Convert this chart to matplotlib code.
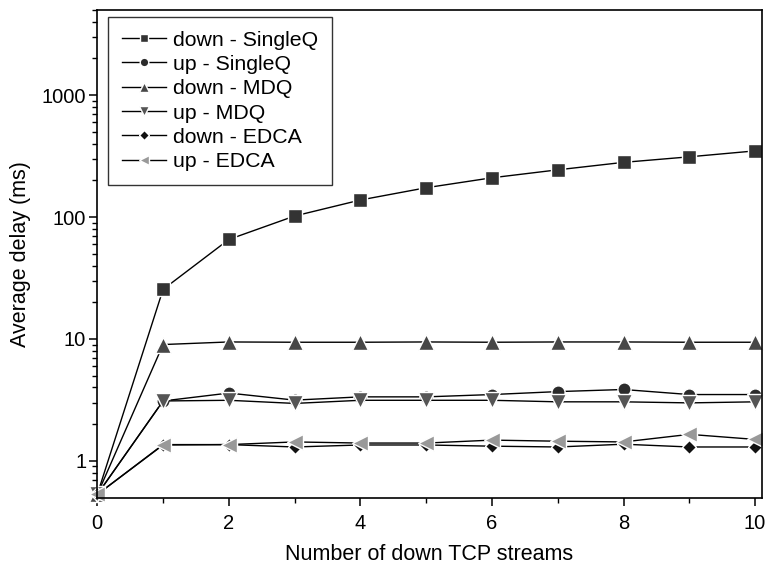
import matplotlib
matplotlib.use("Agg")
from matplotlib import pyplot as plt
from matplotlib.ticker import LogLocator, NullFormatter, FixedLocator

plt.rcParams['font.family'] = ['Liberation Sans', 'DejaVu Sans']

streams = [0, 1, 2, 3, 4, 5, 6, 7, 8, 9, 10]

down_singleq = [0.53, 25.5, 65.5, 102, 138, 174, 210, 244, 281, 312, 349]
up_singleq = [0.53, 3.1, 3.6, 3.15, 3.35, 3.35, 3.5, 3.7, 3.85, 3.5, 3.5]
down_mdq = [0.53, 9.0, 9.45, 9.4, 9.4, 9.45, 9.4, 9.45, 9.45, 9.4, 9.4]
up_mdq = [0.53, 3.1, 3.14, 2.96, 3.14, 3.14, 3.14, 3.05, 3.05, 2.99, 3.05]
down_edca = [0.53, 1.35, 1.36, 1.3, 1.35, 1.35, 1.32, 1.3, 1.37, 1.3, 1.3]
up_edca = [0.53, 1.36, 1.36, 1.43, 1.4, 1.4, 1.48, 1.45, 1.43, 1.65, 1.5]

series = [
    ("down - SingleQ", down_singleq, 's', '#333333', 9.5),
    ("up - SingleQ", up_singleq, 'o', '#2b2b2b', 9.5),
    ("down - MDQ", down_mdq, '^', '#474747', 11),
    ("up - MDQ", up_mdq, 'v', '#555555', 11),
    ("down - EDCA", down_edca, 'D', '#111111', 7.5),
    ("up - EDCA", up_edca, '<', '#999999', 11),
]

fig = plt.figure(figsize=(7.69, 5.68), dpi=100)
ax = fig.add_axes([0.1265, 0.124, 0.8640, 0.8585])

for label, vals, mk, col, ms in series:
    ax.plot(streams, vals, color='black', linewidth=1.0, marker=mk,
            markersize=ms, markerfacecolor=col, markeredgecolor='white',
            markeredgewidth=1.0, label=label, clip_on=False)

ax.set_yscale('log')
ax.set_ylim(0.5, 5000)
ax.set_xlim(0, 10.1)

ax.set_xticks([0, 2, 4, 6, 8, 10])
ax.xaxis.set_minor_locator(FixedLocator([1, 3, 5, 7, 9]))
ax.set_yticks([1, 10, 100, 1000])
ax.set_yticklabels(['1', '10', '100', '1000'])
ax.yaxis.set_minor_locator(LogLocator(base=10, subs=range(2, 10)))
ax.yaxis.set_minor_formatter(NullFormatter())

ax.tick_params(which='major', direction='out', length=6, width=1.1,
               labelsize=14.5)
ax.tick_params(axis='x', which='major', pad=6)
ax.tick_params(axis='y', which='major', pad=2)
ax.tick_params(which='minor', direction='out', length=3.5, width=1.0)
for s in ax.spines.values():
    s.set_linewidth(1.2)

ax.set_xlabel("Number of down TCP streams", fontsize=15.5, labelpad=8)
ax.set_ylabel("Average delay (ms)", fontsize=15.5, labelpad=8)

leg = ax.legend(loc='upper left', bbox_to_anchor=(0.016, 0.986),
                borderaxespad=0, fontsize=15.3, frameon=True, fancybox=False,
                markerscale=0.65, handlelength=2.1, handletextpad=0.3,
                labelspacing=0.25, borderpad=0.65)
leg.get_frame().set_edgecolor('black')
leg.get_frame().set_linewidth(1.0)

plt.savefig('out.png', dpi=100)
